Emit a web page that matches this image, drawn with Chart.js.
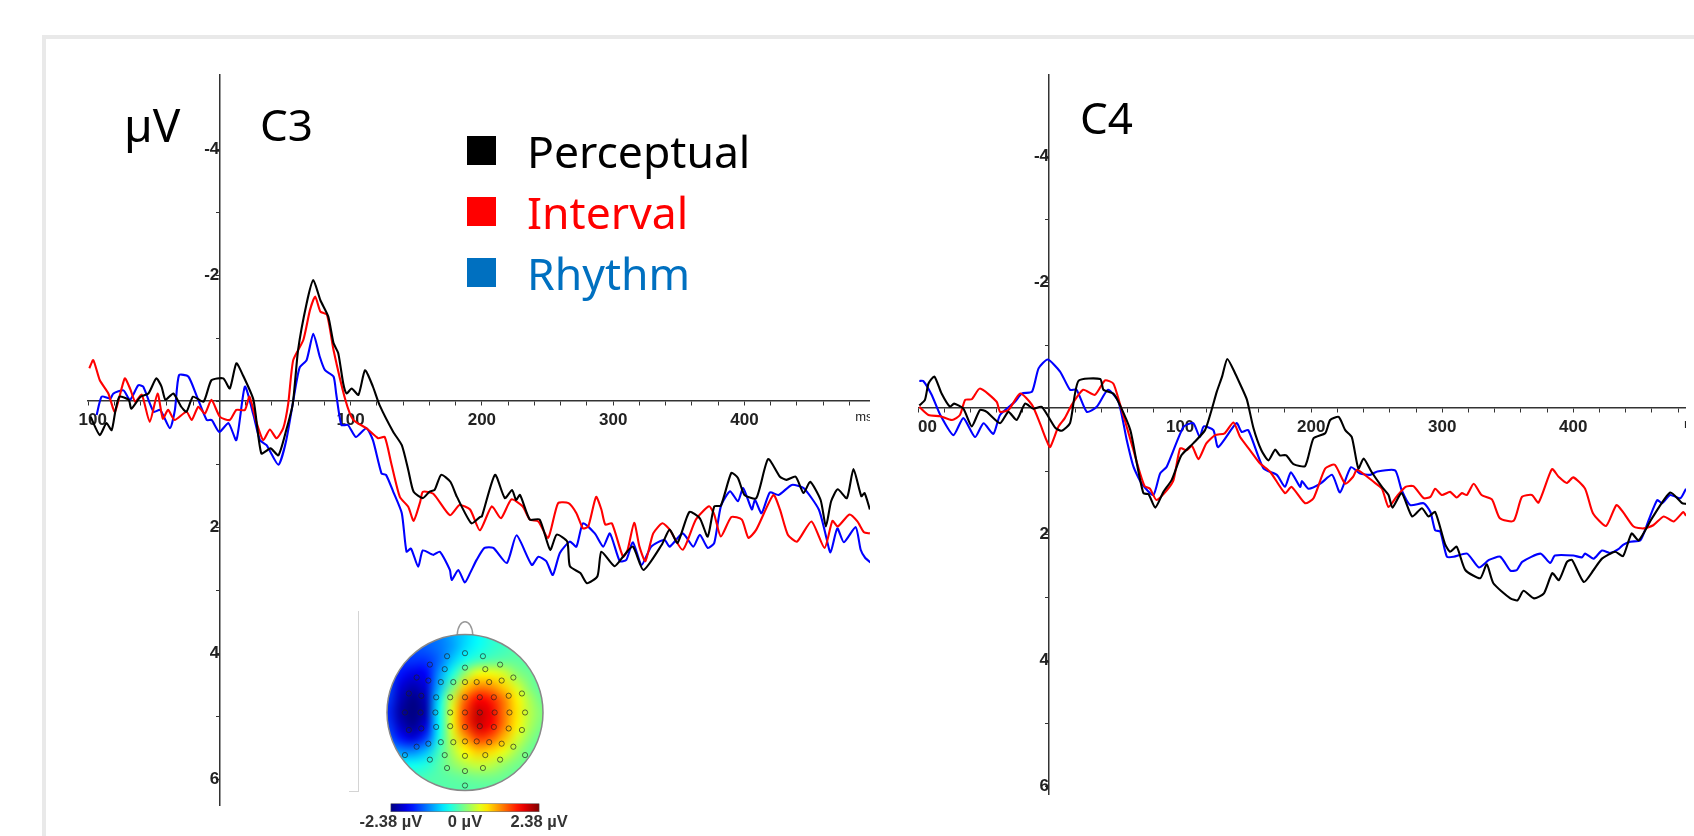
<!DOCTYPE html>
<html>
<head>
<meta charset="utf-8">
<title>C3 / C4 ERP</title>
<script src="https://cdn.jsdelivr.net/npm/chart.js@4"></script>
<style>
  html, body { margin: 0; background: #fff; overflow: hidden; }
  #page { position: relative; width: 1694px; height: 836px; overflow: hidden; }
  canvas { position: absolute; filter: blur(0.35px); }
  .box { position: absolute; }
  .txt { position: absolute; font-family: "Noto Sans", sans-serif; white-space: nowrap; line-height: 1; }
</style>
</head>
<body>
<div id="page">
  <div class="box" style="left:42px;top:35px;width:1652px;height:4px;background:#e9e9e9"></div>
  <div class="box" style="left:42px;top:35px;width:4px;height:801px;background:#e9e9e9"></div>
  <div class="box" style="left:358px;top:611px;width:1px;height:180px;background:#d4d4d4"></div>
  <div class="box" style="left:349px;top:791px;width:10px;height:1px;background:#d4d4d4"></div>

  <canvas id="c3Chart" style="left:70px;top:70px" width="800" height="740"></canvas>
  <canvas id="c4Chart" style="left:918px;top:70px" width="768" height="729"></canvas>
  <canvas id="topoChart" style="left:340px;top:610px" width="250" height="226"></canvas>

  <div class="txt" style="left:124px;top:101px;font-size:46px">µV</div>
  <div class="txt" style="left:260px;top:102px;font-size:44px">C3</div>
  <div class="txt" style="left:1080px;top:95px;font-size:44px">C4</div>
  <div id="legend"></div>
</div>

<script>
// ---- shared ----
const seriesNames = ['Perceptual', 'Interval', 'Rhythm'];
const lineColors = ['#000000', '#ff0000', '#0000ff'];
const legendColors = ['#000000', '#ff0000', '#0070c0'];
const xTickValues = [-100, -80, -60, -40, -20, 0, 20, 40, 60, 80, 100, 120, 140, 160, 180, 200, 220, 240, 260, 280, 300, 320, 340, 360, 380, 400, 420, 440, 460, 480, 491];
const xTickLabels = { '-100': '  100', 100: '100', 200: '200', 300: '300', 400: '400', 491: 'ms' };
const yTickValues = [-4, -3, -2, -1, 0, 1, 2, 3, 4, 5, 6];
const yTickLabels = { '-4': '-4', '-2': '-2', 2: '2', 4: '4', 6: '6' };

// ---- C3 ----
const c3PerceptualT = [-98, -91, -86, -82, -79, -76, -69, -67, -60, -54, -48, -44, -41, -35, -29, -25, -20, -12, -6, 3, 8, 13, 18, 26, 32, 39, 45, 51, 56, 60, 66.5, 71.6, 77, 83, 87, 90.6, 94.4, 97, 100.8, 106, 111, 117, 122, 132.5, 139, 144, 148, 155, 160, 164, 169, 176, 181, 192, 198.5, 200, 210, 217.5, 223, 226, 229, 236.5, 244, 252, 257, 265, 267, 275, 280, 288, 291, 301, 307.5, 315, 323, 337, 343, 349, 358, 366, 372, 377, 382, 390, 395, 400, 409, 418, 427, 432, 439, 445, 450, 458, 462, 466, 471, 478, 483, 489, 491.5, 495.5];
const c3PerceptualV = [0.25, 0.54, 0.35, 0.46, 0.14, -0.07, -0.02, 0.12, -0.07, -0.12, -0.36, -0.23, -0.02, -0.12, 0.09, 0.17, -0.07, 0.01, -0.33, -0.36, -0.2, -0.6, -0.41, -0.02, 0.83, 0.75, 0.86, 0.46, 0.04, -0.81, -1.55, -1.92, -1.6, -1.34, -0.92, -0.76, -0.28, -0.12, -0.2, -0.1, -0.49, -0.23, 0.06, 0.49, 0.7, 1.1, 1.44, 1.54, 1.44, 1.41, 1.17, 1.28, 1.52, 1.94, 1.84, 1.83, 1.17, 1.54, 1.41, 1.57, 1.49, 1.88, 1.88, 2.36, 2.12, 2.23, 2.62, 2.73, 2.89, 2.78, 2.39, 2.62, 2.47, 2.31, 2.68, 2.28, 2.04, 2.25, 1.76, 1.86, 2.15, 1.67, 1.66, 1.14, 1.22, 1.49, 1.54, 0.92, 1.2, 1.25, 1.2, 1.46, 1.28, 1.57, 1.99, 1.59, 1.4, 1.54, 1.08, 1.51, 1.46, 1.72];
const c3IntervalT = [-99, -96, -91, -84.5, -79.5, -72, -68, -64, -59, -53, -47, -43, -39, -34, -25, -21, -16, -11, -6, 0.5, 8, 13, 19.5, 23, 28.5, 33.5, 38.5, 43.6, 48.7, 52.5, 56.3, 64, 69, 73, 77, 82, 87, 96, 102, 112, 121, 126, 131, 137.5, 144, 148, 153, 155, 163, 175.6, 183, 191, 198.5, 207.5, 214.5, 222.5, 231, 236.5, 243, 250.5, 258, 266, 272, 277, 281, 287, 291, 294, 299, 307.5, 311, 316, 320, 324.5, 330.5, 337.5, 343, 353, 363, 373, 377, 382, 390, 398, 403, 409, 422, 427, 433, 440, 451, 461, 467, 471, 480, 486, 491, 495.5];
const c3IntervalV = [-0.52, -0.65, -0.33, -0.12, 0.17, -0.36, -0.2, 0.01, -0.1, 0.33, -0.12, 0.28, 0.14, 0.3, 0.17, 0.3, 0.09, 0.2, -0.02, 0.25, 0.3, 0.14, 0.14, -0.07, 0.35, 0.62, 0.45, 0.59, 0.43, 0.04, -0.65, -0.97, -1.44, -1.66, -1.42, -1.37, -0.81, -0.02, 0.3, 0.43, 0.59, 0.57, 0.99, 1.52, 1.68, 1.9, 1.6, 1.44, 1.47, 1.81, 1.65, 1.72, 2.05, 1.67, 1.86, 1.56, 1.67, 1.88, 1.91, 2.17, 1.62, 1.62, 1.78, 2.02, 1.99, 1.52, 1.72, 1.96, 1.94, 2.47, 2.36, 1.93, 2.31, 2.54, 2.1, 1.94, 2.04, 2.36, 1.88, 1.67, 1.8, 2.15, 1.84, 1.88, 2.17, 2.04, 1.49, 1.72, 2.12, 2.23, 1.91, 2.33, 1.9, 1.99, 1.8, 1.91, 2.08, 2.1];
const c3RhythmT = [-93.4, -89.6, -83, -80.7, -73, -68, -61.7, -58, -50, -45, -37.6, -33.8, -30.7, -23.6, -17, -9.6, -5.8, 0, 7, 13, 19.5, 26, 31, 36, 45, 51, 59, 61.4, 66.5, 71.6, 76.6, 80.5, 87, 89, 93, 98, 104, 112, 117, 123.6, 127, 132.5, 139, 142.6, 146, 151.5, 155, 163, 168, 175.6, 177, 182, 187, 191, 196, 202, 208.7, 219, 226.4, 238, 243, 249, 254, 259.4, 267, 272, 277, 286, 292.4, 297.5, 305, 310, 315, 321.6, 329, 339, 343, 353, 361, 366, 372, 377, 382, 389, 395, 399, 405.6, 408, 413, 419.3, 426, 436, 445, 456.6, 461.6, 465.5, 470.7, 475.7, 484.7, 488.5, 492, 496];
const c3RhythmV = [0.22, -0.07, -0.04, -0.12, -0.17, -0.02, -0.25, -0.23, 0.17, 0.14, 0.43, 0.14, -0.41, -0.39, -0.07, 0.3, 0.3, 0.49, 0.35, 0.62, -0.23, 0.22, 0.62, 0.7, 1.01, 0.62, -0.33, -0.54, -0.65, -1.07, -0.7, -0.49, -0.39, -0.12, 0.38, 0.38, 0.57, 0.43, 0.62, 1.15, 1.17, 1.44, 1.78, 2.39, 2.34, 2.63, 2.37, 2.44, 2.39, 2.68, 2.84, 2.68, 2.88, 2.73, 2.52, 2.33, 2.33, 2.57, 2.13, 2.6, 2.47, 2.54, 2.76, 2.41, 2.23, 2.31, 1.94, 2.1, 2.31, 2.1, 2.54, 2.52, 2.24, 2.6, 2.31, 2.2, 2.31, 2.1, 2.31, 2.12, 2.33, 2.25, 1.67, 1.43, 1.59, 1.38, 1.72, 1.57, 1.78, 1.45, 1.49, 1.33, 1.38, 1.72, 2.1, 2.4, 2.02, 2.24, 2.0, 2.36, 2.49, 2.56];

// ---- C4 ----
const c4PerceptualT = [-99, -94.7, -92, -87.5, -82, -75.6, -72.5, -65.4, -59, -52.7, -47.6, -37.4, -31, -24.7, -18.3, -12, -5.6, 4.6, 9.7, 16, 22.4, 39, 41.5, 49, 54, 62, 67, 72, 76, 81, 87.3, 93.6, 101, 110, 119, 124, 128, 132, 136, 142, 146, 151, 156, 162, 167.4, 172.5, 176, 181, 186.5, 195.4, 201.8, 210.7, 214.5, 221, 226, 231, 236, 240, 246, 254, 259, 262, 269, 277, 284.5, 289.5, 294.6, 302, 306, 311, 317.6, 329, 334, 339, 352, 357.5, 362, 370, 377.6, 384, 389, 395.2, 399, 408, 415.5, 421.9, 432, 438, 444.5, 449.9, 460, 474, 483, 486];
const c4PerceptualV = [-0.04, -0.13, -0.39, -0.5, -0.23, -0.02, -0.07, 0.01, 0.29, 0.03, 0.06, 0.24, 0.06, 0.19, -0.07, 0.01, -0.02, 0.31, 0.36, 0.24, -0.43, -0.46, -0.29, -0.23, -0.05, 0.35, 0.88, 1.35, 1.37, 1.58, 1.33, 1.14, 0.75, 0.56, 0.35, 0.03, -0.26, -0.5, -0.78, -0.55, -0.37, -0.13, 0.32, 0.67, 0.83, 0.66, 0.75, 0.75, 0.89, 0.92, 0.48, 0.4, 0.19, 0.14, 0.35, 0.46, 0.96, 0.8, 1.01, 1.25, 1.38, 1.58, 1.35, 1.72, 1.59, 1.72, 1.65, 2.15, 2.28, 2.2, 2.57, 2.7, 2.48, 2.78, 3.02, 3.05, 2.9, 3.02, 2.94, 2.62, 2.73, 2.44, 2.41, 2.76, 2.57, 2.39, 2.28, 2.35, 1.99, 2.1, 1.75, 1.34, 1.51, 1.52];
const c4IntervalT = [-99, -92, -83, -74, -68, -64, -59, -52.7, -40, -37.4, -31, -22, -13, -7, -2, 0.8, 7, 12, 17.3, 26, 35, 42.7, 49, 54, 59.3, 64.4, 69.5, 73, 77, 82, 90, 95, 100, 105, 109, 114, 120, 126.7, 134, 140.7, 145.8, 153.4, 161, 168.7, 180, 185, 195.4, 201.8, 210.7, 218, 226, 232, 235, 247.6, 254, 259, 265, 272, 278, 285.8, 291, 294.6, 299.7, 306, 311, 315, 318.8, 324, 330, 337.9, 344, 354.5, 360.8, 368.4, 373.5, 383.7, 388.8, 395, 400, 409, 415, 425, 432.9, 438, 446, 453.7, 461, 469, 476.6, 484, 486];
const c4IntervalV = [-0.02, 0.11, 0.13, 0.19, 0.11, -0.13, -0.14, -0.31, -0.1, 0.06, 0.03, -0.23, -0.05, 0.24, 0.51, 0.62, 0.3, 0.16, -0.05, -0.29, -0.21, -0.44, -0.39, -0.07, 0.3, 0.67, 1.04, 1.24, 1.28, 1.46, 1.3, 1.14, 0.64, 0.67, 0.6, 0.81, 0.56, 0.43, 0.4, 0.23, 0.46, 0.67, 0.88, 1.01, 1.35, 1.25, 1.51, 1.43, 0.96, 0.9, 1.2, 1.09, 0.98, 1.17, 1.28, 1.57, 1.41, 1.25, 1.24, 1.43, 1.41, 1.28, 1.38, 1.33, 1.42, 1.35, 1.38, 1.2, 1.38, 1.45, 1.75, 1.79, 1.41, 1.38, 1.5, 0.97, 1.09, 1.19, 1.1, 1.28, 1.67, 1.87, 1.54, 1.65, 1.88, 1.91, 1.86, 1.72, 1.8, 1.65, 1.71];
const c4RhythmT = [-99, -96, -89.6, -83, -73, -65.4, -56.5, -50, -42.5, -37.4, -26, -20.9, -13, -8, -1, 8.4, 16, 21, 28.8, 36.4, 45, 53, 59.3, 64.4, 70.7, 79.6, 84.7, 89.8, 102.5, 110, 115, 118, 125.4, 129, 143, 147, 152, 163.6, 173.8, 180, 184.5, 191.6, 193, 198, 207, 216, 222, 230.3, 237.4, 245, 250, 264, 269, 275.6, 285.8, 291, 294.6, 298.5, 303.6, 308.7, 319, 328, 335.7, 344.3, 352, 357, 361, 375, 382.4, 386, 400, 406.6, 409, 415.5, 421.9, 428, 434.4, 438, 443.5, 451.2, 457.5, 464, 467.7, 474, 481.7, 486];
const c4RhythmV = [-0.43, -0.43, -0.21, 0.11, 0.43, 0.16, 0.46, 0.24, 0.41, 0.11, -0.1, -0.23, -0.26, -0.63, -0.77, -0.58, -0.29, -0.29, 0.06, -0.02, -0.29, -0.1, 0.51, 0.93, 1.2, 1.38, 1.04, 0.93, 0.3, 0.24, 0.46, 0.29, 0.35, 0.62, 0.24, 0.38, 0.35, 0.96, 1.06, 1.25, 1.02, 1.25, 1.16, 1.28, 1.2, 1.06, 1.34, 0.94, 1.04, 1.06, 1.01, 0.99, 1.3, 1.54, 1.51, 1.65, 1.94, 1.96, 2.36, 2.36, 2.31, 2.53, 2.41, 2.36, 2.58, 2.57, 2.44, 2.31, 2.46, 2.34, 2.34, 2.37, 2.31, 2.39, 2.26, 2.3, 2.24, 2.17, 2.12, 2.1, 1.78, 1.46, 1.51, 1.38, 1.43, 1.28];

// ---- scalp map ----
const topoX = [0, -0.23, 0.23, -0.45, -0.26, 0, 0.26, 0.45, -0.62, -0.47, -0.31, -0.15, 0, 0.15, 0.31, 0.47, 0.62, -0.72, -0.56, -0.37, -0.19, 0, 0.19, 0.37, 0.56, 0.73, -0.77, -0.57, -0.38, -0.19, 0, 0.19, 0.38, 0.57, 0.77, -0.72, -0.56, -0.37, -0.19, 0, 0.19, 0.37, 0.56, 0.73, -0.62, -0.47, -0.31, -0.15, 0, 0.15, 0.31, 0.47, 0.62, -0.77, -0.45, -0.26, 0, 0.26, 0.45, 0.77, -0.23, 0, 0.23, 0];
const topoY = [0.78, 0.74, 0.74, 0.63, 0.57, 0.59, 0.57, 0.63, 0.46, 0.42, 0.4, 0.4, 0.4, 0.4, 0.4, 0.42, 0.46, 0.25, 0.22, 0.2, 0.2, 0.2, 0.2, 0.2, 0.22, 0.25, 0, 0, 0, 0, 0, 0, 0, 0, 0, -0.23, -0.21, -0.19, -0.18, -0.19, -0.18, -0.19, -0.21, -0.23, -0.45, -0.41, -0.39, -0.39, -0.38, -0.38, -0.39, -0.41, -0.45, -0.56, -0.62, -0.56, -0.57, -0.56, -0.62, -0.56, -0.73, -0.77, -0.73, -0.96];
const topoRange = [-2.38, 2.38];
const topoTickLabels = ['-2.38 µV', '0 µV', '2.38 µV'];
// µV, 13 x 13, from top of head to bottom
const topoGrid = [
  [-1.4, -1.4, -1.4, -1.3, -1.2, -1.0, -0.8, -0.6, -0.4, -0.3, -0.2, -0.2, -0.2],
  [-1.4, -1.4, -1.4, -1.35, -1.25, -1.05, -0.75, -0.55, -0.4, -0.3, -0.2, -0.2, -0.2],
  [-1.4, -1.5, -1.55, -1.55, -1.3, -0.85, -0.5, -0.3, -0.2, -0.15, -0.15, -0.2, -0.2],
  [-1.4, -1.7, -1.9, -1.8, -1.1, -0.5, 0.1, 0.55, 0.55, 0.4, 0.05, -0.1, -0.2],
  [-1.4, -1.95, -2.15, -1.95, -0.95, -0.1, 0.8, 1.15, 1.1, 0.8, 0.4, 0, -0.2],
  [-1.5, -2.1, -2.35, -2.1, -0.7, 0.35, 1.3, 1.8, 1.65, 1.2, 0.65, 0.2, -0.1],
  [-1.6, -2.2, -2.38, -2.15, -0.6, 0.5, 1.5, 2.05, 1.85, 1.25, 0.7, 0.25, 0],
  [-1.5, -2.05, -2.3, -1.95, -0.6, 0.5, 1.45, 2.0, 1.8, 1.2, 0.65, 0.2, -0.05],
  [-1.3, -1.7, -1.95, -1.5, -0.5, 0.35, 1.0, 1.5, 1.35, 0.9, 0.4, 0.05, -0.15],
  [-0.9, -1.1, -1.15, -0.9, -0.3, 0.2, 0.6, 0.85, 0.75, 0.5, 0.15, -0.1, -0.15],
  [-0.5, -0.55, -0.55, -0.45, -0.2, 0.05, 0.25, 0.35, 0.3, 0.1, -0.05, -0.1, -0.15],
  [-0.3, -0.3, -0.3, -0.25, -0.2, -0.15, -0.1, -0.05, -0.05, -0.1, -0.15, -0.15, -0.15],
  [-0.2, -0.2, -0.2, -0.2, -0.2, -0.2, -0.2, -0.2, -0.2, -0.2, -0.2, -0.2, -0.2]
];

function toPoints(ts, vs) {
  return ts.map((t, i) => ({ x: t, y: vs[i] }));
}

function makeDataset(i, ts, vs) {
  return {
    label: seriesNames[i],
    data: toPoints(ts, vs),
    borderColor: lineColors[i],
    borderWidth: 2.1,
    borderJoinStyle: 'round',
    pointRadius: 0,
    tension: 0.2
  };
}

function panelOptions(xMin, xMax, yMin, yMax, padLeft) {
  return {
    responsive: false,
    animation: false,
    layout: { padding: { left: padLeft, top: 5, right: 0, bottom: 5 } },
    plugins: { legend: { display: false }, tooltip: { enabled: false } },
    scales: {
      x: {
        type: 'linear',
        min: xMin,
        max: xMax,
        position: { y: 0 },
        afterBuildTicks: (s) => { s.ticks = xTickValues.map((v) => ({ value: v })); },
        afterFit: (s) => { s.paddingLeft = 0; s.paddingRight = 0; },
        border: { color: '#333', width: 1.5 },
        grid: {
          drawOnChartArea: false,
          tickLength: 4,
          tickWidth: 1,
          tickColor: (c) => (c.tick && c.tick.value === 491 ? 'rgba(0,0,0,0)' : '#333')
        },
        ticks: {
          autoSkip: false,
          maxRotation: 0,
          padding: 5,
          color: '#222',
          font: (c) => (c.tick && c.tick.value === 491
            ? { family: 'Liberation Sans', size: 13 }
            : { family: 'Liberation Sans', size: 17, weight: 'bold' }),
          callback: (v) => xTickLabels[v] || ''
        }
      },
      y: {
        type: 'linear',
        reverse: true,
        min: yMin,
        max: yMax,
        position: { x: 0 },
        afterBuildTicks: (s) => { s.ticks = yTickValues.map((v) => ({ value: v })); },
        afterFit: (s) => { s.paddingTop = 0; s.paddingBottom = 0; },
        border: { color: '#333', width: 1.5 },
        grid: { drawOnChartArea: false, tickLength: 3, tickWidth: 1, tickColor: '#333' },
        ticks: {
          autoSkip: false,
          padding: 3,
          color: '#222',
          font: { family: 'Liberation Sans', size: 17, weight: 'bold' },
          callback: (v) => yTickLabels[v] || ''
        }
      }
    }
  };
}

new Chart(document.getElementById('c3Chart'), {
  type: 'line',
  data: { datasets: [
    makeDataset(0, c3PerceptualT, c3PerceptualV),
    makeDataset(1, c3IntervalT, c3IntervalV),
    makeDataset(2, c3RhythmT, c3RhythmV)
  ] },
  options: panelOptions(-100, 495.6, -5.175, 6.41, 18)
});

new Chart(document.getElementById('c4Chart'), {
  type: 'line',
  data: { datasets: [
    makeDataset(0, c4PerceptualT, c4PerceptualV),
    makeDataset(1, c4IntervalT, c4IntervalV),
    makeDataset(2, c4RhythmT, c4RhythmV)
  ] },
  options: panelOptions(-100, 486, -5.286, 6.125, 0)
});

// jet colours for the scalp map
function jet(v) {
  const t = (v - topoRange[0]) / (topoRange[1] - topoRange[0]);
  const part = (c) => Math.round(255 * Math.max(0, Math.min(1, 1.5 - Math.abs(4 * t - c))));
  return [part(3), part(2), part(1)];
}

const topoPlugin = {
  id: 'topoPlugin',
  beforeDatasetsDraw(chart) {
    const { ctx, scales: { x, y } } = chart;
    const cx = x.getPixelForValue(0), cy = y.getPixelForValue(0);
    const r = x.getPixelForValue(1) - cx;
    const n = topoGrid.length;

    const off = document.createElement('canvas');
    off.width = n;
    off.height = n;
    const octx = off.getContext('2d');
    const img = octx.createImageData(n, n);
    topoGrid.forEach((row, j) => row.forEach((v, i) => {
      const c = jet(v);
      const k = (j * n + i) * 4;
      img.data[k] = c[0]; img.data[k + 1] = c[1]; img.data[k + 2] = c[2]; img.data[k + 3] = 255;
    }));
    octx.putImageData(img, 0, 0);

    // nose
    ctx.save();
    ctx.strokeStyle = '#999';
    ctx.lineWidth = 1.5;
    ctx.beginPath();
    ctx.moveTo(cx - r * 0.1, cy - r * 0.99);
    ctx.bezierCurveTo(cx - r * 0.09, cy - r * 1.22, cx + r * 0.09, cy - r * 1.22, cx + r * 0.1, cy - r * 0.99);
    ctx.stroke();

    // head
    ctx.beginPath();
    ctx.arc(cx, cy, r, 0, Math.PI * 2);
    ctx.save();
    ctx.clip();
    ctx.imageSmoothingEnabled = true;
    ctx.imageSmoothingQuality = 'high';
    const half = r * (1 + 1 / (n - 1));
    ctx.drawImage(off, cx - half, cy - half, half * 2, half * 2);
    ctx.restore();
    ctx.strokeStyle = '#888';
    ctx.lineWidth = 1.5;
    ctx.stroke();
    ctx.restore();
  },
  afterDraw(chart) {
    const { ctx, scales: { x, y } } = chart;
    const left = x.getPixelForValue(-0.95), right = x.getPixelForValue(0.95);
    const top = y.getPixelForValue(-1.2), bottom = top + 8;
    ctx.save();
    const g = ctx.createLinearGradient(left, 0, right, 0);
    for (let i = 0; i <= 20; i++) {
      const c = jet(topoRange[0] + (topoRange[1] - topoRange[0]) * i / 20);
      g.addColorStop(i / 20, 'rgb(' + c.join(',') + ')');
    }
    ctx.fillStyle = g;
    ctx.fillRect(left, top, right - left, bottom - top);
    ctx.strokeStyle = '#555';
    ctx.lineWidth = 0.5;
    ctx.strokeRect(left, top, right - left, bottom - top);
    ctx.fillStyle = '#333';
    ctx.font = 'bold 16.5px "Liberation Sans"';
    ctx.textAlign = 'center';
    ctx.textBaseline = 'middle';
    ctx.fillText(topoTickLabels[0], left, bottom + 11);
    ctx.fillText(topoTickLabels[1], (left + right) / 2, bottom + 11);
    ctx.fillText(topoTickLabels[2], right, bottom + 11);
    ctx.restore();
  }
};

new Chart(document.getElementById('topoChart'), {
  type: 'scatter',
  data: { datasets: [{
    label: 'electrodes',
    data: toPoints(topoX, topoY),
    pointRadius: 2.6,
    pointBackgroundColor: 'rgba(0,0,0,0)',
    pointBorderColor: 'rgba(30,30,30,0.65)',
    pointBorderWidth: 1
  }] },
  options: {
    responsive: false,
    animation: false,
    layout: { padding: { left: 25, right: 25, top: 0, bottom: 26 } },
    plugins: { legend: { display: false }, tooltip: { enabled: false } },
    scales: {
      x: { type: 'linear', display: false, min: -1.282, max: 1.282 },
      y: { type: 'linear', display: false, min: -1.282, max: 1.282 }
    }
  },
  plugins: [topoPlugin]
});

// legend
const legendBox = document.getElementById('legend');
seriesNames.forEach((name, i) => {
  const top = 136 + i * 61;
  const sq = document.createElement('div');
  sq.className = 'box';
  sq.style.cssText = 'left:467px;top:' + top + 'px;width:29px;height:29px;background:' + legendColors[i];
  legendBox.appendChild(sq);
  const t = document.createElement('div');
  t.className = 'txt';
  t.textContent = name;
  t.style.cssText = 'left:527px;top:' + (top - 7) + 'px;font-size:44.5px;color:' + legendColors[i];
  legendBox.appendChild(t);
});
</script>
</body>
</html>
